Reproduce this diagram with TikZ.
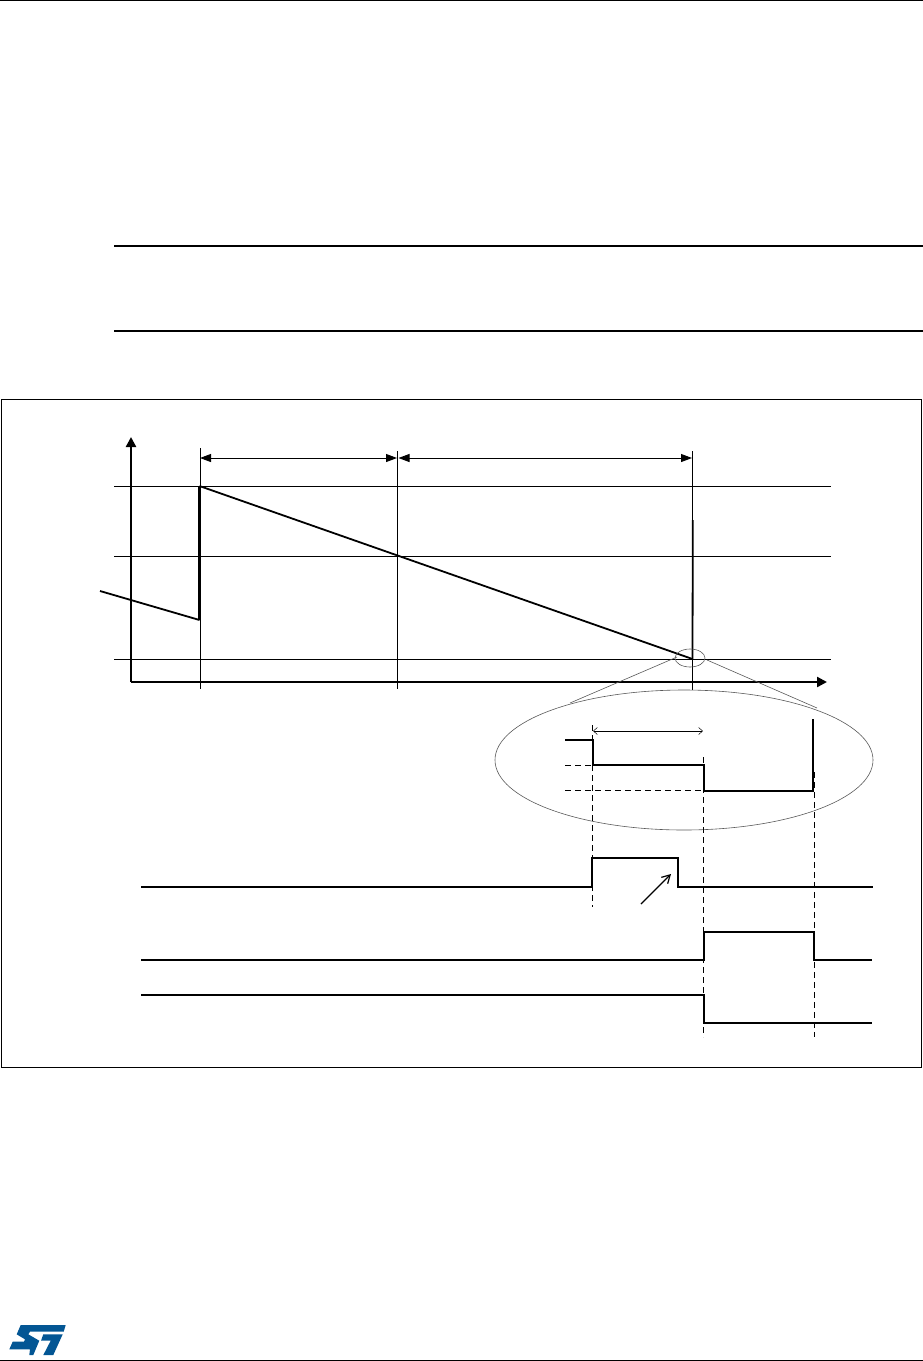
\documentclass[tikz,border=0pt]{standalone}
\usepackage{amssymb}
\usepackage{pgf, tikz}
\usetikzlibrary{arrows.meta}
\pgfdeclarelayer{edgelayer}
\pgfdeclarelayer{nodelayer}
\pgfsetlayers{edgelayer,nodelayer,main}
\definecolor{stblue}{RGB}{3,86,148}
\tikzstyle{thinedge}=[draw=black, line width=0.9pt]
\tikzstyle{signal}=[draw=black, line width=1.8pt, line join=miter]
\tikzstyle{axisedge}=[draw=black, line width=2.3pt, -{Triangle[length=10pt,width=10pt]}]
\tikzstyle{span}=[draw=black, line width=0.9pt, {Triangle[length=11pt,width=8pt]}-{Triangle[length=11pt,width=8pt]}]
\tikzstyle{guide}=[draw=black, line width=0.8pt, dash pattern=on 6pt off 4pt]
\tikzstyle{lens}=[draw=black!65, line width=0.6pt]
\tikzstyle{rule}=[draw=black, line width=2pt]
\begin{document}
\begin{tikzpicture}[x=1pt, y=-1pt]
	\useasboundingbox (0,0) rectangle (923,1361);
	\begin{pgfonlayer}{nodelayer}
		% axes
		\coordinate (o) at (131, 682);
		\coordinate (ytip) at (131, 437);
		\coordinate (xtip) at (827, 682);
		% levels
		\coordinate (hi1) at (114, 486);
		\coordinate (hi2) at (831, 486);
		\coordinate (mid1) at (114, 556);
		\coordinate (mid2) at (831, 556);
		\coordinate (lo1) at (114, 659);
		\coordinate (lo2) at (831, 659);
		% time marks
		\coordinate (ta1) at (200, 448);
		\coordinate (ta2) at (200, 689);
		\coordinate (tb1) at (397.5, 451);
		\coordinate (tb2) at (397.5, 689);
		\coordinate (tc1) at (692.5, 451);
		\coordinate (tc2) at (692.5, 690);
		\coordinate (sa) at (200, 458);
		\coordinate (sb1) at (397, 458);
		\coordinate (sb2) at (398.5, 458);
		\coordinate (sc) at (692, 458);
		% ramp
		\coordinate (r1) at (100, 591);
		\coordinate (r2) at (199.5, 620);
		\coordinate (r3) at (199.5, 486);
		\coordinate (r4) at (692.5, 659);
		\coordinate (r5) at (692.8, 520);
		% magnifier
		\coordinate (ms) at (690, 658);
		\coordinate (mb) at (684, 760);
		\coordinate (ml1) at (677, 657);
		\coordinate (ml2) at (570, 703);
		\coordinate (mr1) at (707, 660);
		\coordinate (mr2) at (817, 708);
		% detail step
		\coordinate (d1) at (565, 740);
		\coordinate (d2) at (593, 740);
		\coordinate (d3) at (593, 765);
		\coordinate (d4) at (704, 765);
		\coordinate (d5) at (704, 791);
		\coordinate (d6) at (814, 791);
		\coordinate (d7) at (813, 792);
		\coordinate (d8) at (813, 719);
		\coordinate (e1) at (565, 765.5);
		\coordinate (e2) at (593, 765.5);
		\coordinate (e3) at (565, 790.5);
		\coordinate (e4) at (704, 790.5);
		\coordinate (g1a) at (592.7, 725);
		\coordinate (g1b) at (592.7, 907);
		\coordinate (g2a) at (703.5, 757);
		\coordinate (g2b) at (703.5, 1037);
		\coordinate (g3a) at (814.5, 772);
		\coordinate (g3b) at (814.5, 1037);
		\coordinate (w1) at (593, 731);
		\coordinate (w2) at (703, 731);
		% pulse one
		\coordinate (p1) at (141, 887);
		\coordinate (p2) at (592, 887);
		\coordinate (p3) at (592, 858);
		\coordinate (p4) at (678, 858);
		\coordinate (p5) at (678, 887);
		\coordinate (p6) at (873, 887);
		\coordinate (a1) at (641, 904);
		\coordinate (a2) at (671, 874);
		% pulse two
		\coordinate (q1) at (141, 960);
		\coordinate (q2) at (704, 960);
		\coordinate (q3) at (704, 932);
		\coordinate (q4) at (814, 932);
		\coordinate (q5) at (814, 960);
		\coordinate (q6) at (872, 960);
		% pulse three
		\coordinate (s1) at (141, 995);
		\coordinate (s2) at (704, 995);
		\coordinate (s3) at (704, 1023);
		\coordinate (s4) at (872, 1023);
		% page
		\coordinate (top1) at (0, 0.5);
		\coordinate (top2) at (923, 0.5);
		\coordinate (n1) at (114, 246);
		\coordinate (n2) at (923, 246);
		\coordinate (n3) at (114, 331);
		\coordinate (n4) at (923, 331);
		\coordinate (f1) at (1, 399);
		\coordinate (f2) at (921, 1067);
		\coordinate (bot1) at (0, 1360);
		\coordinate (bot2) at (923, 1360);
	\end{pgfonlayer}
	\begin{pgfonlayer}{edgelayer}
		\draw [style=thinedge] (top1) to (top2);
		\draw [style=rule] (n1) to (n2);
		\draw [style=rule] (n3) to (n4);
		\draw [style=thinedge] (f1) rectangle (f2);
		\draw [style=thinedge] (bot1) to (bot2);
		\draw [style=thinedge] (hi1) to (hi2);
		\draw [style=thinedge] (mid1) to (mid2);
		\draw [style=thinedge] (lo1) to (lo2);
		\draw [style=thinedge] (ta1) to (ta2);
		\draw [style=thinedge] (tb1) to (tb2);
		\draw [style=thinedge] (tc1) to (tc2);
		\draw [style=axisedge] (o) to (ytip);
		\draw [style=axisedge] (o) to (xtip);
		\draw [style=span] (sa) to (sb1);
		\draw [style=span] (sb2) to (sc);
		\draw [style=signal] (r1) to (r2);
		\draw [style=signal, line width=2.6pt] (r2) to (r3);
		\draw [style=signal] (r3) to (r4);
		\draw [style=signal] (r4) to (r5);
		\draw [style=lens] (ms) ellipse (15 and 9);
		\draw [style=lens] (mb) ellipse (189 and 70);
		\draw [style=lens] (ml1) to (ml2);
		\draw [style=lens] (mr1) to (mr2);
		\draw [style=signal] (d1) to (d2) to (d3) to (d4) to (d5) to (d6);
		\draw [style=signal] (d7) to (d8);
		\draw [style=guide] (e1) to (e2);
		\draw [style=guide] (e3) to (e4);
		\draw [style=guide] (g1a) to (g1b);
		\draw [style=guide] (g2a) to (g2b);
		\draw [style=guide] (g3a) to (g3b);
		\draw [draw=black, line width=0.5pt, {Straight Barb[length=4pt,width=7pt]}-{Straight Barb[length=4pt,width=7pt]}] (w1) to (w2);
		\draw [style=signal] (p1) to (p2) to (p3) to (p4) to (p5) to (p6);
		\draw [draw=black, line width=1.2pt, -{Straight Barb[length=8pt,width=9pt]}] (a1) to (a2);
		\draw [style=signal] (q1) to (q2) to (q3) to (q4) to (q5) to (q6);
		\draw [style=signal] (s1) to (s2) to (s3) to (s4);
		% logo
		\fill [stblue] (20.7,1325) -- (65.7,1325) -- (63.7,1331.7) -- (30,1331.7) -- (28.3,1334.3) -- (39.3,1340.7) -- (33.3,1355) -- (29.3,1355) -- (30,1349.3) -- (9.3,1349.3) -- (12.7,1341.7) -- (24,1341.7) -- (25,1339.3) -- (16.7,1334.3) -- cycle;
		\fill [stblue] (43.3,1334.3) -- (62.7,1334.3) -- (53.3,1355) -- (43.3,1355) -- (50.7,1340.7) -- (41,1340.7) -- cycle;
	\end{pgfonlayer}
\end{tikzpicture}
\end{document}
